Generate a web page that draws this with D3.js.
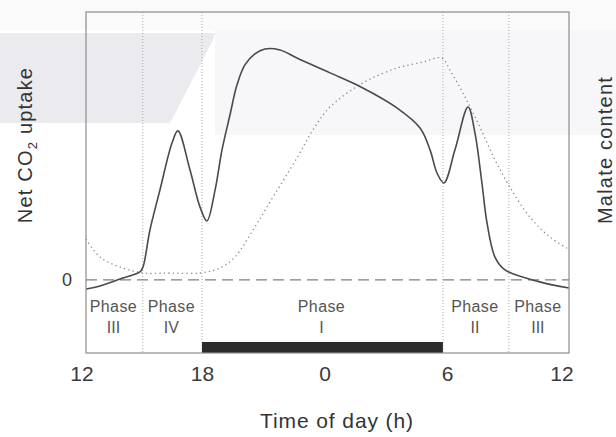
<!DOCTYPE html>
<html>
<head>
<meta charset="utf-8">
<script src="https://cdn.jsdelivr.net/npm/d3@7"></script>
<style>
  body { margin: 0; background: #fff; }
  svg { display: block; font-family: Arial, "Liberation Sans", Helvetica, sans-serif; }
</style>
</head>
<body>
<svg id="drawing_region"></svg>
<script>
// time of day in hours, 12 = noon, 24 = midnight, 36 = next noon
const co2Hours = [12.32, 13.0, 13.98, 14.96, 15.11, 15.45, 15.94, 16.53, 16.82, 17.41, 17.9, 18.24,
    18.64, 18.98, 19.37, 19.71, 20.1, 20.59, 21.08, 21.82, 22.65, 24.27, 25.88, 27.55, 28.68,
    29.17, 29.51, 29.85, 30.39, 31.03, 31.37, 31.71, 31.96, 32.35, 32.84, 34.55, 35.97];
const co2Uptake = [-3.7, -2.5, 0.4, 3.3, 5.3, 20.5, 36.9, 56.2, 61.2, 45.2, 30.0, 24.2,
    36.9, 53.4, 67.7, 80.0, 88.3, 92.8, 94.8, 94.4, 91.1, 85.0, 78.8, 70.6, 62.4,
    53.4, 43.9, 39.8, 53.4, 71.0, 60.3, 39.8, 23.4, 9.4, 4.1, -0.8, -3.3];

const malateHours = [12.32, 13.0, 13.98, 15.11, 16.43, 17.9, 18.88, 19.61, 20.35, 21.18, 22.65,
    23.43, 24.27, 25.88, 27.55, 28.82, 29.75, 30.14, 30.88, 31.61, 32.35, 33.08, 34.06, 35.04, 35.97];
const malateContent = [15.8, 7.4, 2.8, 0, 0, 0, 2.3, 7.4, 17.7, 30.7, 53.5,
    66.5, 77.2, 88.4, 95.3, 98.1, 100, 94.4, 81.9, 67.9, 52.6, 40, 26, 16.7, 11.0];

const phaseBounds = [12.32, 15.1, 18, 29.8, 33.03, 35.97];
const phaseNames = ['III', 'IV', 'I', 'II', 'III'];
const darkPeriod = [18, 29.8];
const tickHours = [12, 18, 24, 30, 36];
const tickLabels = ['12', '18', '0', '6', '12'];

class CamChart {
    constructor( config ) {
        this.config = config;
        this.init();
    }

    init() {
        let self = this;
        const c = self.config;

        self.svg = d3.select( c.parent )
            .attr('width', c.width)
            .attr('height', c.height);

        // faint background band of the scanned page
        self.svg.append('rect')
            .attr('x', 0).attr('y', 0).attr('width', c.width).attr('height', 30)
            .attr('fill', '#fafafb');
        self.svg.append('path')
            .attr('d', 'M215,30 L616,30 L616,135 L215,135 Z')
            .attr('fill', '#f7f7f9');
        self.svg.append('path')
            .attr('d', 'M0,33 L215,33 L213,40 L170,123 L0,123 Z')
            .attr('fill', '#eaeaef');
    }

    render() {
        let self = this;
        const top = 12, bottom = 353, left = 86, right = 569;

        self.xscale = d3.scaleLinear()
            .domain( [12, 36] )
            .range( [79.5, 569.5] );

        self.yscale = d3.scaleLinear()
            .domain( [-30, 110] )
            .range( [353, 12] );

        self.mscale = d3.scaleLinear()
            .domain( [0, 100] )
            .range( [273, 58] );

        // phase separators
        self.svg.selectAll('.sep')
            .data( phaseBounds.slice(1, -1) )
            .join('line')
            .attr('x1', d => self.xscale(d)).attr('x2', d => self.xscale(d))
            .attr('y1', top).attr('y2', bottom)
            .attr('stroke', '#aaa')
            .attr('stroke-width', 1)
            .attr('stroke-dasharray', '1,2');

        // zero line
        self.svg.append('line')
            .attr('x1', left).attr('x2', right)
            .attr('y1', self.yscale(0)).attr('y2', self.yscale(0))
            .attr('stroke', '#808080')
            .attr('stroke-width', 1.3)
            .attr('stroke-dasharray', '11,6');

        // night bar
        self.svg.append('rect')
            .attr('x', self.xscale(darkPeriod[0]))
            .attr('y', 342)
            .attr('width', self.xscale(darkPeriod[1]) - self.xscale(darkPeriod[0]))
            .attr('height', bottom - 342)
            .attr('fill', '#2b2b2b');

        // malate content (dotted)
        const mline = d3.line()
            .x( (d, i) => self.xscale(malateHours[i]) )
            .y( d => self.mscale(d) )
            .curve( d3.curveCatmullRom );
        self.svg.append('path')
            .attr('d', mline(malateContent))
            .attr('fill', 'none')
            .attr('stroke', '#8a8a8a')
            .attr('stroke-width', 1.3)
            .attr('stroke-dasharray', '1.3,3.2');

        // net CO2 uptake (solid)
        const cline = d3.line()
            .x( (d, i) => self.xscale(co2Hours[i]) )
            .y( d => self.yscale(d) )
            .curve( d3.curveCatmullRom );
        self.svg.append('path')
            .attr('d', cline(co2Uptake))
            .attr('fill', 'none')
            .attr('stroke', '#4a4a4a')
            .attr('stroke-width', 1.6);

        // frame
        self.svg.append('rect')
            .attr('x', left).attr('y', top)
            .attr('width', right - left).attr('height', bottom - top)
            .attr('fill', 'none')
            .attr('stroke', '#8c8c8c')
            .attr('stroke-width', 1.2);

        // phase labels
        const mids = phaseNames.map( (n, i) => (phaseBounds[i] + phaseBounds[i + 1]) / 2 );
        self.svg.selectAll('.ph1')
            .data( phaseNames )
            .join('text')
            .attr('x', (d, i) => self.xscale(mids[i]) - 1)
            .attr('y', 312)
            .attr('text-anchor', 'middle')
            .attr('font-size', 16)
            .attr('letter-spacing', 0.4)
            .attr('fill', '#555')
            .text('Phase');
        self.svg.selectAll('.ph2')
            .data( phaseNames )
            .join('text')
            .attr('x', (d, i) => self.xscale(mids[i]) - 1)
            .attr('y', 333)
            .attr('text-anchor', 'middle')
            .attr('font-size', 16)
            .attr('fill', '#555')
            .text(d => d);

        // x ticks
        const xaxis = d3.axisBottom( self.xscale )
            .tickValues( tickHours )
            .tickFormat( (d, i) => tickLabels[i] )
            .tickSize(0)
            .tickPadding(0);
        const xg = self.svg.append('g')
            .attr('transform', 'translate(0, 366)')
            .call( xaxis );
        xg.select('.domain').remove();
        xg.selectAll('text')
            .attr('font-size', 21)
            .attr('font-family', 'Arial, "Liberation Sans", sans-serif')
            .attr('fill', '#3a3a3a')
            .attr('dx', (d, i) => i === 0 ? 2 : (i === tickHours.length - 1 ? -8 : 0));

        // zero label
        self.svg.append('text')
            .attr('x', 67).attr('y', self.yscale(0) + 6)
            .attr('text-anchor', 'middle')
            .attr('font-size', 18)
            .attr('fill', '#3a3a3a')
            .text('0');

        // axis titles
        self.svg.append('text')
            .attr('x', 337).attr('y', 428)
            .attr('text-anchor', 'middle')
            .attr('font-size', 21)
            .attr('letter-spacing', 0.9)
            .attr('fill', '#333')
            .text('Time of day (h)');

        const yt = self.svg.append('text')
            .attr('transform', 'translate(32, 145) rotate(-90)')
            .attr('text-anchor', 'middle')
            .attr('font-size', 20)
            .attr('letter-spacing', 1.2)
            .attr('fill', '#333');
        yt.append('tspan').text('Net CO');
        yt.append('tspan').attr('font-size', 13).attr('dy', 5).text('2');
        yt.append('tspan').attr('dy', -5).text(' uptake');

        self.svg.append('text')
            .attr('transform', 'translate(612, 150) rotate(-90)')
            .attr('text-anchor', 'middle')
            .attr('font-size', 20)
            .attr('letter-spacing', 1.2)
            .attr('fill', '#333')
            .text('Malate content');
    }
}

const chart = new CamChart( { parent: '#drawing_region', width: 616, height: 437 } );
chart.render();
</script>
</body>
</html>
